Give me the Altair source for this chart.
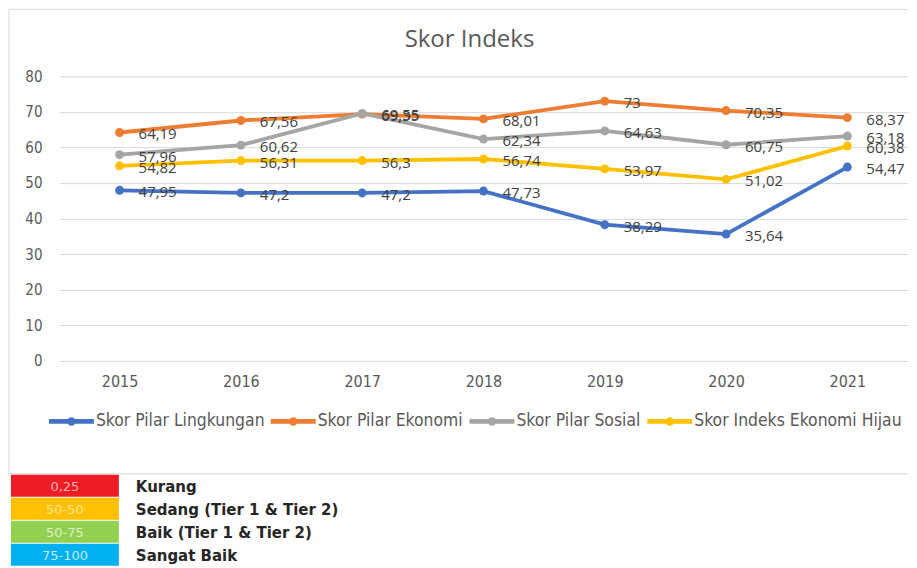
import altair as alt
import pandas as pd

years = ["2015", "2016", "2017", "2018", "2019", "2020", "2021"]
series_names = ["Skor Pilar Lingkungan", "Skor Pilar Ekonomi", "Skor Pilar Sosial", "Skor Indeks Ekonomi Hijau"]
series_colors = ["#4472C4", "#ED7D31", "#A5A5A5", "#FFC000"]
lingkungan = [47.95, 47.2, 47.2, 47.73, 38.29, 35.64, 54.47]
ekonomi = [64.19, 67.56, 69.35, 68.01, 73, 70.35, 68.37]
sosial = [57.96, 60.62, 69.55, 62.34, 64.63, 60.75, 63.18]
hijau = [54.82, 56.31, 56.3, 56.74, 53.97, 51.02, 60.38]
y_ticks = [0, 10, 20, 30, 40, 50, 60, 70, 80]

ranges = ["0,25", "50-50", "50-75", "75-100"]
kategori = ["Kurang", "Sedang (Tier 1 & Tier 2)", "Baik (Tier 1 & Tier 2)", "Sangat Baik"]
box_colors = ["#EE1C25", "#FFC000", "#92D050", "#00B0F0"]
box_text_colors = ["#FFB3B3", "#FFE699", "#DDF2C8", "#C2ECFB"]

rows = []
for name, vals in zip(series_names, [lingkungan, ekonomi, sosial, hijau]):
    for yr, v in zip(years, vals):
        rows.append({"tahun": yr, "seri": name, "skor": v,
                     "label": f"{v:g}".replace(".", ",")})
df = pd.DataFrame(rows)

table_df = pd.DataFrame({"range": ranges, "kategori": kategori,
                         "box": box_colors, "tc": box_text_colors})

COND = "DejaVu Sans Condensed, Liberation Sans Narrow, DejaVu Sans, sans-serif"
legend_symbol = ("M-1,-0.11L1,-0.11L1,0.11L-1,0.11Z "
                 "M0.19,0A0.19,0.19 0 1,1 -0.19,0A0.19,0.19 0 1,1 0.19,0Z")

x_enc = alt.X("tahun:N", title=None,
              axis=alt.Axis(domain=False, ticks=False, grid=False, labelAngle=0,
                            labelPadding=13, labelFont=COND, labelFontSize=16,
                            labelColor="#595959"))
y_enc = alt.Y("skor:Q", title=None,
              scale=alt.Scale(domain=[0, 80], nice=False),
              axis=alt.Axis(values=y_ticks, domain=False, ticks=False, grid=True,
                            gridColor="#D9D9D9", labelPadding=17, labelFont=COND,
                            labelFontSize=15, labelColor="#595959"))
color_enc = alt.Color("seri:N", scale=alt.Scale(domain=series_names, range=series_colors),
                      legend=alt.Legend(orient="none", legendX=-10, legendY=323,
                                        direction="horizontal", title=None,
                                        symbolType=legend_symbol, symbolSize=2025,
                                        symbolStrokeWidth=0, labelFont=COND,
                                        labelFontSize=17.4, labelColor="#595959",
                                        labelOffset=2, columnPadding=6, labelLimit=0))

base = alt.Chart(df).encode(x=x_enc, y=y_enc, color=color_enc)
lines = base.mark_line(strokeWidth=3.8)
points = base.mark_circle(size=80, opacity=1)
labels = base.mark_text(align="left", baseline="middle", dx=19, dy=2,
                        font="Open Sans", fontSize=15, color="#404040").encode(
    text="label:N", color=alt.value("#404040"))

one = alt.Data(values=[{"f": 1}])
frame_top = alt.Chart(one).mark_rule(color="#D9D9D9").encode(
    x=alt.value(-50), x2=alt.value(850), y=alt.value(-67))
frame_left = alt.Chart(one).mark_rule(color="#D9D9D9").encode(
    x=alt.value(-50), y=alt.value(-67), y2=alt.value(398))
frame_bottom = alt.Chart(one).mark_rule(color="#D9D9D9").encode(
    x=alt.value(-50), x2=alt.value(850), y=alt.value(398))

top = alt.layer(frame_top, frame_left, frame_bottom, lines, points, labels).properties(
    width=850, height=285,
    title=alt.TitleParams("Skor Indeks", font="Open Sans", fontSize=24,
                          fontWeight="normal", color="#595959", offset=-43, dx=-14))

tbase = alt.Chart(table_df).encode(
    y=alt.Y("range:N", sort=ranges, axis=None,
            scale=alt.Scale(paddingInner=0.05, paddingOuter=0)))
boxes = tbase.mark_rect().encode(x=alt.value(-48), x2=alt.value(60),
                                 color=alt.Color("box:N", scale=None))
box_text = tbase.mark_text(align="center", baseline="middle", font="DejaVu Sans",
                           fontSize=13, dy=1).encode(
    x=alt.value(6), text="range:N", color=alt.Color("tc:N", scale=None))
cat_text = tbase.mark_text(align="left", baseline="middle", font="DejaVu Sans",
                           fontWeight="bold", fontSize=15, color="#262626", dy=1).encode(
    x=alt.value(77), text="kategori:N")
table = alt.layer(boxes, box_text, cat_text).properties(width=850, height=91)

chart = alt.vconcat(top, table, spacing=114, bounds="flush").properties(
    padding={"left": 0, "top": 0, "right": 0, "bottom": 0}
).configure_view(stroke=None)

chart.save("out.html", embed_options={"renderer": "svg", "actions": False})
